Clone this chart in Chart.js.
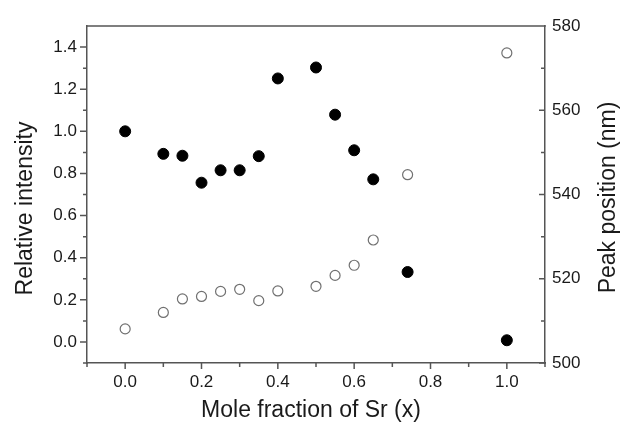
<!DOCTYPE html>
<html>
<head>
<meta charset="utf-8">
<script src="https://cdn.jsdelivr.net/npm/chart.js@4/dist/chart.umd.min.js"></script>
<style>
html,body{margin:0;padding:0;background:#fff;}
#wrap{width:620px;height:423px;}
</style>
</head>
<body>
<div id="wrap"><canvas id="c" width="620" height="423"></canvas></div>
<script>
// Data
const xValues = [0, 0.1, 0.15, 0.2, 0.25, 0.3, 0.35, 0.4, 0.5, 0.55, 0.6, 0.65, 0.74, 1.0];
const relIntensity = [1.0, 0.893, 0.884, 0.756, 0.815, 0.815, 0.882, 1.251, 1.303, 1.079, 0.910, 0.772, 0.332, 0.008];
const peakPosition = [508.1, 512.0, 515.2, 515.8, 517.0, 517.5, 514.8, 517.1, 518.2, 520.8, 523.2, 529.2, 544.7, 573.6];

// Ticks
const xTicks = [0, 0.2, 0.4, 0.6, 0.8, 1.0];
const xMinor = [-0.1, 0.1, 0.3, 0.5, 0.7, 0.9, 1.1];
const leftTicks = [0, 0.2, 0.4, 0.6, 0.8, 1.0, 1.2, 1.4];
const leftMinor = [-0.1, 0.1, 0.3, 0.5, 0.7, 0.9, 1.1, 1.3];
const rightTicks = [500, 520, 540, 560, 580];
const rightMinor = [510, 530, 550, 570];

// Titles
const xTitle = 'Mole fraction of Sr (x)';
const yTitle = 'Relative intensity';
const y2Title = 'Peak position (nm)';

const AXIS_COLOR = '#555';
const TEXT_COLOR = '#1a1a1a';
const FONT = "'Liberation Sans', Arial, sans-serif";

const pts = (ys) => xValues.map((x, i) => ({x: x, y: ys[i]}));

const tickPlugin = {
  id: 'ticksFrame',
  afterDraw(chart) {
    const ctx = chart.ctx;
    const a = chart.chartArea;
    const sx = chart.scales.x, sy = chart.scales.y, sr = chart.scales.y2;
    ctx.save();
    ctx.strokeStyle = AXIS_COLOR;
    ctx.lineWidth = 1.5;
    ctx.beginPath();
    ctx.moveTo(a.left - 0.75, a.top);
    ctx.lineTo(a.right + 0.75, a.top);
    xTicks.forEach(v => { const p = sx.getPixelForValue(v); ctx.moveTo(p, a.bottom); ctx.lineTo(p, a.bottom + 6); });
    xMinor.forEach(v => { const p = sx.getPixelForValue(v); ctx.moveTo(p, a.bottom); ctx.lineTo(p, a.bottom + 4); });
    leftTicks.forEach(v => { const p = sy.getPixelForValue(v); ctx.moveTo(a.left, p); ctx.lineTo(a.left - 7, p); });
    leftMinor.forEach(v => { const p = sy.getPixelForValue(v); ctx.moveTo(a.left, p); ctx.lineTo(a.left - 4, p); });
    rightTicks.forEach(v => { const p = sr.getPixelForValue(v); ctx.moveTo(a.right, p); ctx.lineTo(a.right - 6, p); });
    rightMinor.forEach(v => { const p = sr.getPixelForValue(v); ctx.moveTo(a.right, p); ctx.lineTo(a.right - 4, p); });
    ctx.stroke();

    // axis titles
    ctx.fillStyle = TEXT_COLOR;
    ctx.font = "23px " + FONT;
    ctx.textAlign = 'center';
    ctx.textBaseline = 'alphabetic';
    ctx.fillText(xTitle, (a.left + a.right) / 2 - 5, 417);

    ctx.save();
    ctx.translate(32, (a.top + a.bottom) / 2 + 14);
    ctx.rotate(-Math.PI / 2);
    ctx.fillText(yTitle, 0, 0);
    ctx.restore();

    ctx.save();
    ctx.translate(615, (a.top + a.bottom) / 2 + 3);
    ctx.rotate(-Math.PI / 2);
    ctx.fillText(y2Title, 0, 0);
    ctx.restore();

    ctx.restore();
  }
};

const setTicks = (arr) => (scale) => { scale.ticks = arr.map(v => ({value: v})); };

new Chart(document.getElementById('c'), {
  type: 'scatter',
  data: {
    datasets: [
      {
        label: yTitle,
        data: pts(relIntensity),
        yAxisID: 'y',
        pointRadius: 5.5,
        pointHoverRadius: 5.5,
        pointBackgroundColor: '#000',
        pointBorderColor: '#000',
        pointBorderWidth: 1,
        showLine: false
      },
      {
        label: y2Title,
        data: pts(peakPosition),
        yAxisID: 'y2',
        pointRadius: 5,
        pointHoverRadius: 5,
        pointBackgroundColor: 'rgba(255,255,255,0)',
        pointBorderColor: '#707070',
        pointBorderWidth: 1.2,
        showLine: false
      }
    ]
  },
  options: {
    responsive: false,
    animation: false,
    devicePixelRatio: 1,
    layout: { padding: { top: 26, left: 0, right: 0, bottom: 0 } },
    plugins: { legend: { display: false }, tooltip: { enabled: false } },
    scales: {
      x: {
        type: 'linear',
        position: 'bottom',
        min: -0.1, max: 1.1,
        afterBuildTicks: setTicks(xTicks),
        afterFit: (s) => { s.height = 60; },
        grid: { display: true, drawOnChartArea: false, drawTicks: false, color: 'rgba(0,0,0,0)' },
        border: { display: true, color: AXIS_COLOR, width: 1.5 },
        ticks: {
          padding: 9,
          color: TEXT_COLOR,
          font: { family: FONT, size: 17 },
          callback: (v) => Number(v).toFixed(1)
        },
        title: { display: false, text: xTitle }
      },
      y: {
        type: 'linear',
        position: 'left',
        min: -0.1, max: 1.5,
        afterBuildTicks: setTicks(leftTicks),
        afterFit: (s) => { s.width = 87; },
        grid: { display: true, drawOnChartArea: false, drawTicks: false, color: 'rgba(0,0,0,0)' },
        border: { display: true, color: AXIS_COLOR, width: 1.5 },
        ticks: {
          padding: 10,
          color: TEXT_COLOR,
          font: { family: FONT, size: 17 },
          callback: (v) => Number(v).toFixed(1)
        },
        title: { display: false, text: yTitle }
      },
      y2: {
        type: 'linear',
        position: 'right',
        min: 500, max: 580,
        afterBuildTicks: setTicks(rightTicks),
        afterFit: (s) => { s.width = 75; },
        grid: { display: true, drawOnChartArea: false, drawTicks: false, color: 'rgba(0,0,0,0)' },
        border: { display: true, color: AXIS_COLOR, width: 1.5 },
        ticks: {
          padding: 7,
          color: TEXT_COLOR,
          font: { family: FONT, size: 17 },
          callback: (v) => String(v)
        },
        title: { display: false, text: y2Title }
      }
    }
  },
  plugins: [tickPlugin]
});
</script>
</body>
</html>
